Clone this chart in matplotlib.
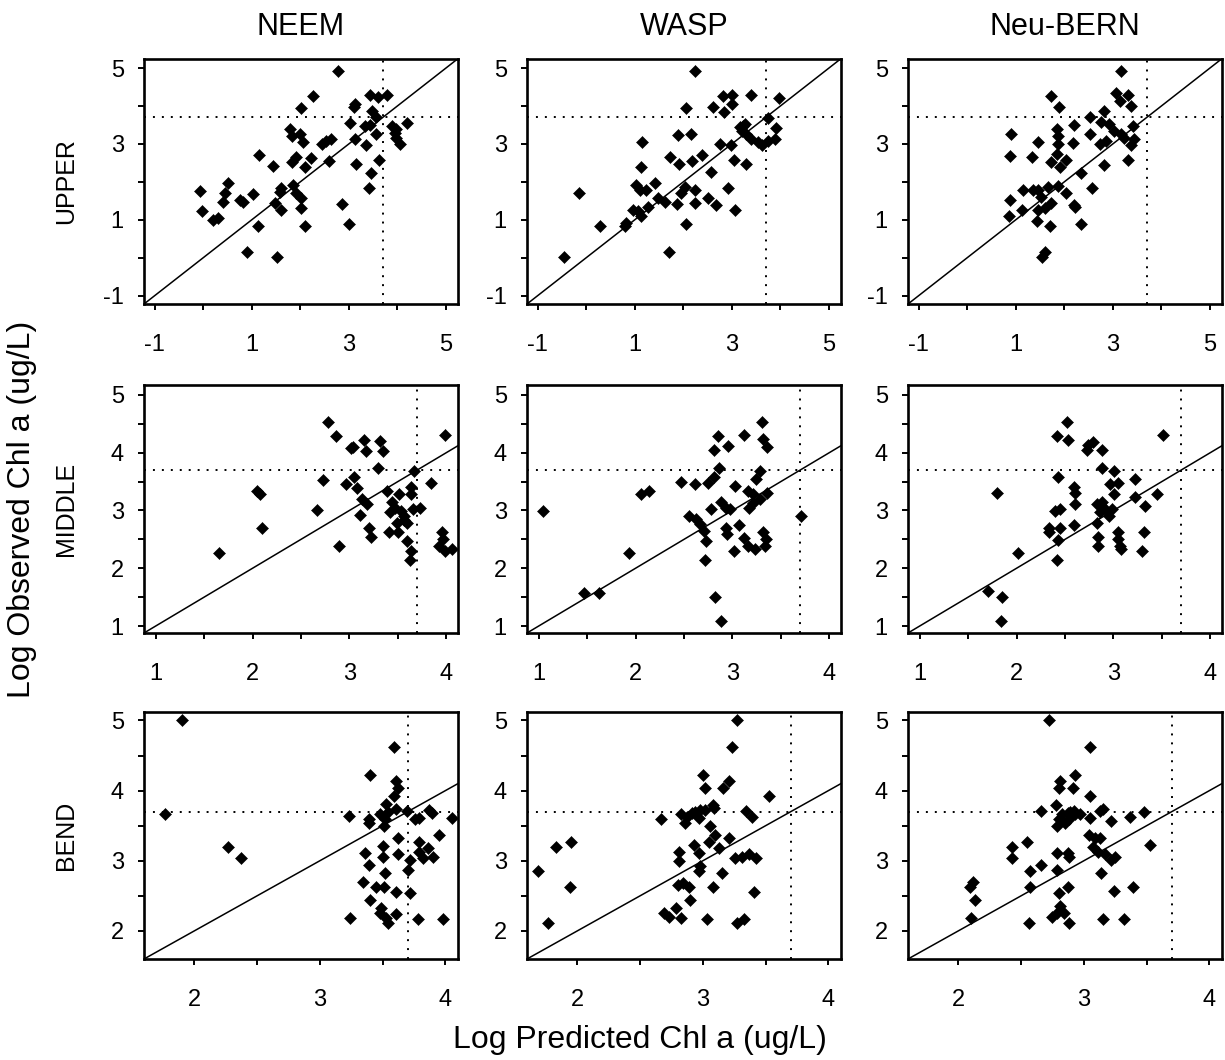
import matplotlib.pyplot as plt
import numpy as np
from matplotlib.ticker import FixedLocator

plt.rcParams["font.family"] = ["Liberation Sans", "DejaVu Sans"]

models = ["NEEM", "WASP", "Neu-BERN"]
regions = ["UPPER", "MIDDLE", "BEND"]
threshold = 3.7  # log(40 ug/L)

# (log predicted, log observed)
upper_neem = [
    (2.78, 4.93), (2.26, 4.26), (2.01, 3.96), (3.43, 4.30), (3.60, 4.23), (3.78, 4.30),
    (3.12, 4.06), (3.10, 3.97), (3.47, 3.87), (3.57, 3.70), (3.02, 3.55), (3.33, 3.48),
    (3.43, 3.50), (3.57, 3.26), (3.12, 3.13), (3.35, 2.98), (3.88, 3.48), (3.95, 3.30),
    (3.98, 3.17), (4.05, 3.00), (4.19, 3.54), (3.98, 3.39), (3.63, 2.58), (3.14, 2.46),
    (3.45, 2.23), (3.42, 1.84), (3.01, 0.89), (2.87, 1.41), (2.59, 2.55), (2.44, 3.00),
    (2.54, 3.07), (2.64, 3.13), (1.78, 3.39), (1.82, 3.22), (1.99, 3.26), (2.06, 3.04),
    (2.22, 2.63), (1.92, 2.65), (1.82, 2.52), (2.09, 2.39), (1.15, 2.70), (1.43, 2.41),
    (1.85, 1.91), (1.61, 1.83), (1.58, 1.74), (1.92, 1.70), (2.02, 1.57), (1.47, 1.45),
    (1.61, 1.26), (2.01, 1.30), (2.09, 0.84), (1.13, 0.84), (1.03, 1.68), (0.75, 1.52),
    (0.82, 1.48), (0.51, 1.96), (0.44, 1.70), (0.41, 1.48), (-0.07, 1.77), (-0.02, 1.24),
    (0.20, 1.00), (0.31, 1.04), (0.91, 0.15), (1.52, 0.03),
]
upper_wasp = [
    (2.25, 4.93), (2.05, 3.96), (2.82, 4.26), (3.01, 4.30), (3.01, 4.06), (2.61, 3.98),
    (2.83, 3.85), (3.39, 4.30), (3.97, 4.20), (3.75, 3.68), (3.92, 3.42), (3.27, 3.52),
    (3.20, 3.35), (3.30, 3.26), (3.40, 3.13), (3.54, 3.04), (3.62, 2.98), (3.75, 3.09),
    (3.89, 3.13), (3.17, 3.44), (3.24, 3.48), (2.99, 2.98), (2.75, 3.00), (3.05, 2.58),
    (3.29, 2.46), (1.89, 3.24), (2.15, 3.26), (1.15, 3.06), (1.12, 2.39), (1.73, 2.65),
    (1.91, 2.48), (2.17, 2.55), (2.39, 2.70), (2.57, 2.26), (2.92, 1.84), (3.07, 1.26),
    (2.68, 1.39), (2.50, 1.57), (2.25, 1.43), (2.25, 1.78), (2.03, 1.87), (1.95, 1.70),
    (1.87, 1.42), (2.05, 0.90), (1.70, 0.15), (1.02, 1.91), (1.10, 1.78), (1.24, 1.78),
    (1.41, 1.96), (1.48, 1.57), (1.62, 1.48), (0.96, 1.26), (1.06, 1.22), (1.13, 1.09),
    (1.27, 1.35), (0.82, 0.91), (0.79, 0.83), (0.29, 0.84), (-0.15, 1.70), (-0.45, 0.03),
]
upper_bern = [
    (3.17, 4.93), (3.07, 4.35), (3.14, 4.13), (3.31, 4.30), (3.37, 4.00), (1.73, 4.26),
    (1.89, 3.97), (2.81, 3.87), (2.53, 3.70), (2.21, 3.50), (1.86, 3.39), (1.87, 3.22),
    (2.53, 3.26), (2.76, 3.57), (2.93, 3.52), (3.03, 3.35), (3.17, 3.26), (3.24, 3.17),
    (3.41, 3.48), (3.44, 3.13), (3.37, 2.98), (2.73, 3.00), (2.86, 3.09), (2.19, 3.02),
    (1.88, 3.00), (1.46, 3.04), (0.91, 3.26), (0.89, 2.67), (1.34, 2.65), (1.84, 2.74),
    (1.73, 2.52), (1.91, 2.39), (2.04, 2.57), (2.81, 2.45), (3.32, 2.58), (2.35, 2.23),
    (2.57, 1.84), (1.87, 1.90), (1.67, 1.86), (1.46, 1.78), (1.36, 1.78), (1.15, 1.78),
    (1.53, 1.61), (1.73, 1.43), (1.60, 1.30), (1.46, 1.26), (2.04, 1.70), (2.21, 1.39),
    (2.22, 1.33), (2.35, 0.90), (0.88, 1.52), (0.86, 1.09), (1.12, 1.26), (1.44, 0.96),
    (1.70, 0.84), (1.60, 0.15), (1.55, 0.03),
]
middle_neem = [
    (2.78, 4.53), (2.86, 4.28), (3.04, 4.10), (3.02, 4.08), (3.15, 4.22), (3.17, 4.02),
    (3.32, 4.20), (3.35, 4.02), (3.29, 3.73), (3.67, 3.68), (3.99, 4.30), (2.73, 3.53),
    (2.96, 3.46), (3.05, 3.58), (3.08, 3.38), (2.05, 3.34), (2.08, 3.28), (2.10, 2.70),
    (1.65, 2.27), (2.67, 3.01), (2.89, 2.38), (3.13, 3.20), (3.18, 3.11), (3.11, 2.92),
    (3.20, 2.70), (3.22, 2.54), (3.39, 3.34), (3.41, 2.63), (3.44, 3.14), (3.42, 2.97),
    (3.47, 3.05), (3.51, 3.28), (3.53, 2.99), (3.56, 2.91), (3.59, 2.79), (3.63, 3.28),
    (3.63, 3.40), (3.66, 3.02), (3.73, 3.05), (3.49, 2.79), (3.50, 2.62), (3.56, 2.83),
    (3.59, 2.47), (3.63, 2.30), (3.62, 2.14), (3.84, 3.48), (3.96, 2.63), (3.97, 2.50),
    (3.92, 2.38), (3.99, 2.30), (4.06, 2.34),
]
middle_wasp = [
    (1.04, 2.99), (1.47, 1.58), (1.62, 1.58), (1.93, 2.27), (2.06, 3.28), (2.14, 3.34),
    (2.47, 3.49), (2.61, 3.46), (2.75, 3.48), (2.81, 3.58), (2.86, 3.73), (2.81, 4.04),
    (2.85, 4.28), (2.95, 4.12), (3.12, 4.30), (3.30, 4.53), (3.31, 4.23), (3.36, 4.10),
    (3.28, 3.69), (3.24, 3.55), (3.03, 3.42), (3.16, 3.34), (3.21, 3.28), (3.28, 3.20),
    (3.36, 3.31), (3.17, 3.05), (3.21, 3.13), (2.88, 3.14), (2.93, 3.05), (2.97, 3.02),
    (2.78, 3.02), (2.55, 2.91), (2.62, 2.85), (2.66, 2.76), (2.71, 2.65), (2.73, 2.47),
    (2.72, 2.14), (2.93, 2.70), (2.94, 2.59), (3.07, 2.74), (3.12, 2.53), (3.02, 2.30),
    (3.16, 2.38), (3.23, 2.33), (3.31, 2.63), (3.35, 2.50), (3.34, 2.38), (3.71, 2.91),
    (2.82, 1.50), (2.88, 1.08),
]
middle_bern = [
    (2.52, 4.53), (2.42, 4.28), (2.53, 4.22), (2.74, 4.13), (2.79, 4.19), (2.73, 4.04),
    (2.88, 4.04), (3.51, 4.31), (2.88, 3.73), (3.01, 3.68), (2.43, 3.58), (2.59, 3.40),
    (2.60, 3.31), (2.60, 3.11), (2.96, 3.46), (3.05, 3.48), (3.01, 3.28), (3.22, 3.55),
    (3.22, 3.23), (3.45, 3.28), (3.33, 3.08), (1.80, 3.31), (2.40, 2.99), (2.45, 3.02),
    (2.33, 2.70), (2.33, 2.63), (2.45, 2.70), (2.59, 2.74), (2.43, 2.49), (2.42, 2.15),
    (2.02, 2.27), (2.83, 3.11), (2.88, 3.14), (2.91, 3.02), (2.86, 2.97), (2.95, 2.91),
    (2.83, 2.79), (2.98, 3.02), (2.89, 3.05), (2.84, 2.54), (2.84, 2.38), (3.05, 2.62),
    (3.05, 2.50), (3.07, 2.38), (3.08, 2.33), (3.32, 2.63), (3.29, 2.30), (1.71, 1.60),
    (1.85, 1.50), (1.84, 1.08),
]
bend_neem = [
    (1.90, 5.00), (1.77, 3.67), (2.27, 3.20), (2.37, 3.04), (3.23, 3.64), (3.40, 4.22),
    (3.59, 4.62), (3.61, 4.14), (3.62, 4.03), (3.59, 3.92), (3.53, 3.81), (3.54, 3.70),
    (3.48, 3.66), (3.52, 3.59), (3.51, 3.50), (3.61, 3.74), (3.69, 3.71), (3.39, 3.59),
    (3.39, 3.54), (3.76, 3.59), (3.79, 3.61), (3.87, 3.73), (3.89, 3.68), (4.05, 3.61),
    (3.95, 3.37), (3.62, 3.32), (3.50, 3.21), (3.36, 3.11), (3.39, 2.94), (3.50, 3.05),
    (3.62, 3.10), (3.72, 3.01), (3.70, 2.87), (3.79, 3.27), (3.79, 3.13), (3.86, 3.18),
    (3.82, 3.04), (3.90, 3.06), (3.52, 2.82), (3.34, 2.70), (3.45, 2.63), (3.51, 2.63),
    (3.61, 2.56), (3.72, 2.54), (3.40, 2.44), (3.49, 2.33), (3.48, 2.25), (3.53, 2.18),
    (3.54, 2.11), (3.61, 2.24), (3.24, 2.18), (3.78, 2.17), (3.98, 2.17),
]
bend_wasp = [
    (3.27, 5.00), (3.23, 4.62), (3.00, 4.22), (3.02, 4.04), (3.21, 4.14), (3.16, 4.03),
    (3.53, 3.92), (2.67, 3.59), (2.83, 3.66), (2.87, 3.63), (2.91, 3.68), (2.94, 3.70),
    (2.98, 3.73), (3.02, 3.73), (3.08, 3.80), (3.09, 3.75), (2.86, 3.54), (2.97, 3.61),
    (3.06, 3.50), (3.34, 3.71), (3.39, 3.63), (3.10, 3.37), (3.05, 3.27), (3.21, 3.32),
    (3.13, 3.18), (2.93, 3.23), (2.97, 3.11), (2.81, 3.12), (2.81, 3.00), (2.98, 2.92),
    (2.97, 2.86), (3.26, 3.04), (3.31, 3.06), (3.37, 3.09), (3.42, 3.04), (3.15, 2.82),
    (3.08, 2.63), (2.80, 2.66), (2.84, 2.68), (2.89, 2.63), (2.90, 2.44), (3.41, 2.55),
    (2.69, 2.25), (2.73, 2.20), (2.79, 2.32), (2.83, 2.19), (3.03, 2.17), (3.27, 2.11),
    (3.33, 2.17), (1.95, 3.27), (1.83, 3.20), (1.69, 2.86), (1.94, 2.62), (1.77, 2.11),
]
bend_bern = [
    (2.72, 5.00), (3.05, 4.62), (2.93, 4.22), (2.81, 4.14), (2.80, 4.03), (2.91, 4.04),
    (3.05, 3.92), (2.66, 3.71), (2.78, 3.79), (2.83, 3.66), (2.87, 3.68), (2.89, 3.70),
    (2.92, 3.71), (2.93, 3.66), (2.88, 3.59), (2.85, 3.54), (2.80, 3.59), (2.79, 3.50),
    (2.97, 3.66), (3.05, 3.61), (3.13, 3.71), (3.15, 3.74), (3.22, 3.57), (3.37, 3.62),
    (3.48, 3.69), (3.53, 3.22), (3.04, 3.37), (3.09, 3.32), (3.13, 3.32), (3.07, 3.20),
    (3.11, 3.13), (3.17, 3.09), (3.22, 3.01), (3.25, 3.06), (3.14, 2.82), (3.24, 2.57),
    (3.39, 2.63), (2.79, 3.11), (2.87, 3.11), (2.88, 3.06), (2.79, 2.87), (2.87, 2.63),
    (2.80, 2.54), (2.81, 2.35), (2.79, 2.25), (2.75, 2.20), (2.84, 2.25), (2.88, 2.11),
    (3.15, 2.17), (3.32, 2.17), (2.56, 2.11), (2.57, 2.62), (2.57, 2.86), (2.66, 2.94),
    (2.55, 3.27), (2.43, 3.20), (2.43, 3.04), (2.12, 2.70), (2.09, 2.63), (2.13, 2.44),
    (2.10, 2.18),
]

panels = [
    [upper_neem, upper_wasp, upper_bern],
    [middle_neem, middle_wasp, middle_bern],
    [bend_neem, bend_wasp, bend_bern],
]

# per-row axis limits and ticks
x_limits = [(-1.22, 5.25), (0.88, 4.12), (1.60, 4.10)]
y_limits = [(-1.22, 5.24), (0.88, 5.17), (1.60, 5.12)]
x_ticks = [[-1, 0, 1, 2, 3, 4, 5], [1, 1.5, 2, 2.5, 3, 3.5, 4], [2, 2.5, 3, 3.5, 4]]
x_labels = [["-1", "", "1", "", "3", "", "5"], ["1", "", "2", "", "3", "", "4"], ["2", "", "3", "", "4"]]
y_ticks = [[-1, 0, 1, 2, 3, 4, 5], [1, 1.5, 2, 2.5, 3, 3.5, 4, 4.5, 5], [2, 2.5, 3, 3.5, 4, 4.5, 5]]
y_labels = [["-1", "", "1", "", "3", "", "5"], ["1", "", "2", "", "3", "", "4", "", "5"],
            ["2", "", "3", "", "4", "", "5"]]

W, H = 1225, 1060
fig = plt.figure(figsize=(W / 100, H / 100), dpi=100)

col_left = [144, 527, 908]
col_width = 314
row_top = [59, 385, 712]
row_bottom = [304, 633, 959]

for r in range(3):
    for c in range(3):
        ax = fig.add_axes([col_left[c] / W, 1 - row_bottom[r] / H,
                           col_width / W, (row_bottom[r] - row_top[r]) / H])
        pts = np.array(panels[r][c])
        lo = min(x_limits[r][0], y_limits[r][0])
        hi = max(x_limits[r][1], y_limits[r][1])
        ax.plot([lo, hi], [lo, hi], color="black", lw=1.1, zorder=2)
        ax.axvline(threshold, color="black", lw=1.4, dashes=(1, 3.6), zorder=1)
        ax.axhline(threshold, color="black", lw=1.4, dashes=(1, 3.6), zorder=1)
        ax.plot(pts[:, 0], pts[:, 1], "D", ms=6.6, color="black", mec="black",
                mew=0.4, zorder=3)
        ax.set_xlim(*x_limits[r])
        ax.set_ylim(*y_limits[r])
        ax.xaxis.set_major_locator(FixedLocator(x_ticks[r]))
        ax.yaxis.set_major_locator(FixedLocator(y_ticks[r]))
        ax.set_xticklabels(x_labels[r])
        ax.set_yticklabels(y_labels[r])
        ax.tick_params(direction="out", length=4.5, width=1.4, labelsize=17,
                       color="black")
        ax.tick_params(axis="x", pad=17)
        ax.tick_params(axis="y", pad=10)
        for s in ax.spines.values():
            s.set_linewidth(1.9)

        if r == 0:
            fig.text((col_left[c] + col_width / 2) / W, 1 - 27 / H, models[c],
                     ha="center", va="center", fontsize=22)
    fig.text(66 / W, 1 - (row_top[r] + row_bottom[r]) / 2 / H, regions[r],
             rotation=90, ha="center", va="center", fontsize=18)

fig.text(22 / W, 1 - 509 / H, "Log Observed Chl a (ug/L)", rotation=90,
         ha="center", va="center", fontsize=23)
fig.text(640 / W, 1 - 1040 / H, "Log Predicted Chl a (ug/L)",
         ha="center", va="center", fontsize=23)

fig.savefig("out.png", dpi=100)
